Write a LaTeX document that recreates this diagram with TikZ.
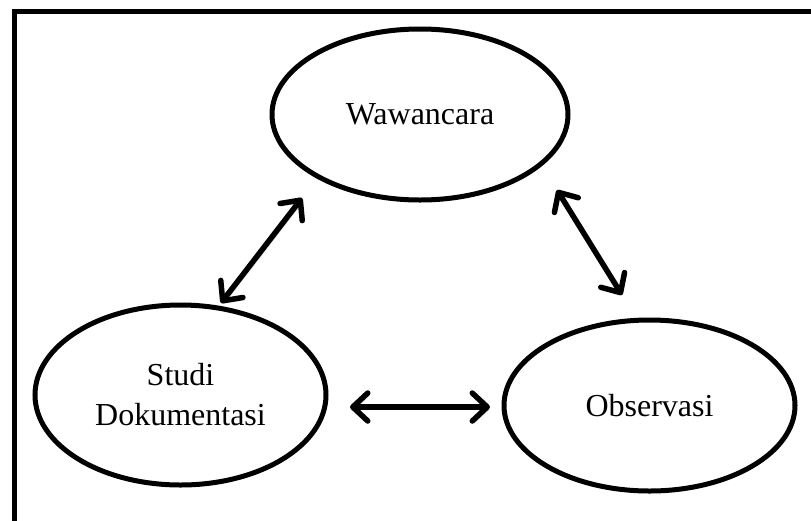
\documentclass[tikz,border=0pt]{standalone}
\usepackage{fontspec}
\setmainfont{Liberation Serif}
\usetikzlibrary{arrows.meta,shapes.geometric}
\begin{document}
\begin{tikzpicture}[x=1pt,y=-1pt,
  bubble/.style={draw, line width=5pt, ellipse, inner sep=0pt, align=center,
    font=\fontsize{32}{40}\selectfont},
  >={Straight Barb[length=15pt,width=28pt,line cap=round,line join=round]},
  link/.style={line width=5.5pt, line cap=round, <->,
    preaction={draw=black!15, transform canvas={shift={(2pt,-2.5pt)}}}}]
\useasboundingbox (0,0) rectangle (811,520);
\clip (0,0) rectangle (811,520);
% frame
\draw[line width=5pt] (14,560) -- (14,11) -- (860,11);
% ellipses
\node[bubble, minimum width=296pt, minimum height=171pt] (w) at (420,114.5) {Wawancara};
\node[bubble, minimum width=291pt, minimum height=180pt] (s) at (180.5,395) {Studi\\Dokumentasi};
\node[bubble, minimum width=291pt, minimum height=171pt] (o) at (649.5,405.5) {Observasi};
% arrow end points
\coordinate (a1) at (302,198);
\coordinate (a2) at (221,303);
\coordinate (b1) at (557,190);
\coordinate (b2) at (622,295);
\coordinate (c1) at (350,407);
\coordinate (c2) at (490,407);
\draw[link] (a2) -- (a1);
\draw[link] (b1) -- (b2);
\draw[link] (c1) -- (c2);
\end{tikzpicture}
\end{document}
